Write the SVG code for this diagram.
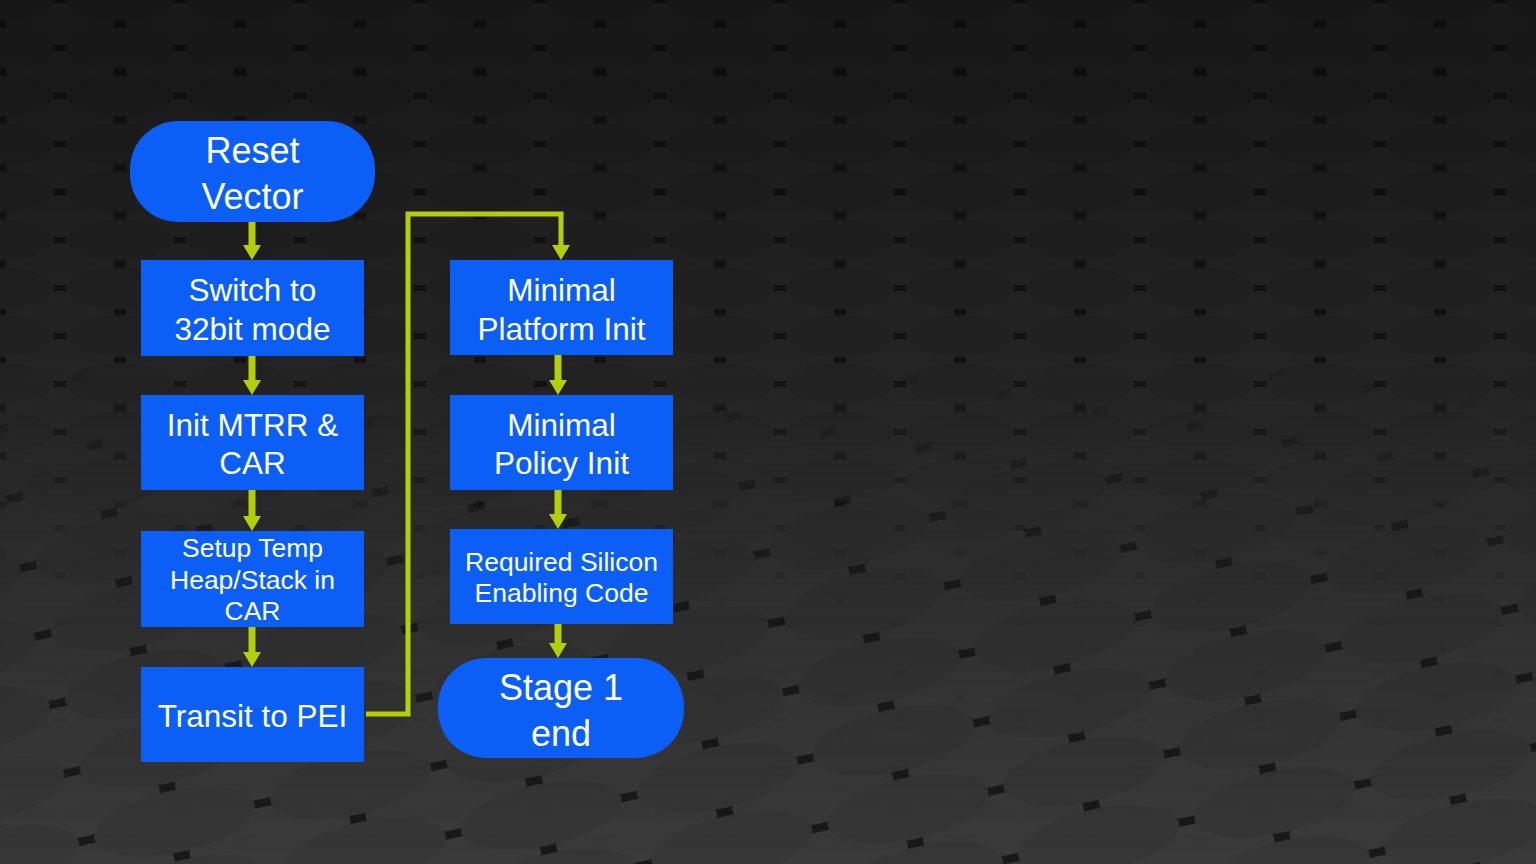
<svg xmlns="http://www.w3.org/2000/svg" width="1536" height="864" viewBox="0 0 1536 864">
  <defs>
    <style>
      .box { fill: #0B5FF7; }
      .lbl { fill: #FFFFFF; font-family: "Liberation Sans", Arial, sans-serif; text-anchor: middle; }
      .f36 { font-size: 36px; }
      .f31 { font-size: 31.5px; }
      .f26 { font-size: 26.5px; }
      .arrow { stroke: #B4CF0A; stroke-width: 7; fill: none; }
      .elbow { stroke: #B4CF0A; stroke-width: 5; fill: none; stroke-linejoin: miter; }
    </style>
    <marker id="head" viewBox="0 0 15 18" refX="1" refY="9" markerWidth="15" markerHeight="18" markerUnits="userSpaceOnUse" orient="auto">
      <path d="M0,0 L15,9 L0,18 Z" fill="#B4CF0A"/>
    </marker>
    <pattern id="discs" x="0" y="0" width="120" height="48" patternUnits="userSpaceOnUse">
      <rect width="120" height="48" fill="#1a1a1a"/>
      <ellipse cx="60" cy="24" rx="54" ry="21" fill="#343434"/>
      <ellipse cx="0" cy="0" rx="54" ry="21" fill="#303030"/>
      <ellipse cx="120" cy="0" rx="54" ry="21" fill="#303030"/>
      <ellipse cx="0" cy="48" rx="54" ry="21" fill="#303030"/>
      <ellipse cx="120" cy="48" rx="54" ry="21" fill="#303030"/>
    </pattern>
    <pattern id="discsBig" x="0" y="0" width="180" height="70" patternUnits="userSpaceOnUse" patternTransform="rotate(-12)">
      <rect width="180" height="70" fill="#181818"/>
      <ellipse cx="90" cy="35" rx="82" ry="31" fill="#3a3a3a"/>
      <ellipse cx="0" cy="0" rx="82" ry="31" fill="#363636"/>
      <ellipse cx="180" cy="0" rx="82" ry="31" fill="#363636"/>
      <ellipse cx="0" cy="70" rx="82" ry="31" fill="#363636"/>
      <ellipse cx="180" cy="70" rx="82" ry="31" fill="#363636"/>
    </pattern>
    <linearGradient id="shade" x1="0" y1="0" x2="0" y2="1">
      <stop offset="0" stop-color="#000" stop-opacity="0.55"/>
      <stop offset="0.45" stop-color="#000" stop-opacity="0.3"/>
      <stop offset="1" stop-color="#000" stop-opacity="0"/>
    </linearGradient>
    <linearGradient id="bigFade" x1="0" y1="0" x2="0" y2="1">
      <stop offset="0" stop-color="#fff" stop-opacity="0"/>
      <stop offset="0.4" stop-color="#fff" stop-opacity="0"/>
      <stop offset="0.7" stop-color="#fff" stop-opacity="0.85"/>
      <stop offset="1" stop-color="#fff" stop-opacity="1"/>
    </linearGradient>
    <mask id="bigMask">
      <rect width="1536" height="864" fill="url(#bigFade)"/>
    </mask>
  </defs>

  <g id="background">
    <rect width="1536" height="864" fill="url(#discs)"/>
    <rect width="1536" height="864" fill="url(#discsBig)" mask="url(#bigMask)"/>
    <rect width="1536" height="864" fill="url(#shade)"/>
  </g>

  <g id="connectors">
    <line class="arrow" x1="252" y1="222" x2="252" y2="246" marker-end="url(#head)"/>
    <line class="arrow" x1="252" y1="356" x2="252" y2="381" marker-end="url(#head)"/>
    <line class="arrow" x1="252" y1="490" x2="252" y2="517" marker-end="url(#head)"/>
    <line class="arrow" x1="252" y1="627" x2="252" y2="653" marker-end="url(#head)"/>
    <polyline class="elbow" points="366,714 408,714 408,214 561,214 561,246" marker-end="url(#head)"/>
    <line class="arrow" x1="558" y1="355" x2="558" y2="381" marker-end="url(#head)"/>
    <line class="arrow" x1="558" y1="490" x2="558" y2="515" marker-end="url(#head)"/>
    <line class="arrow" x1="558" y1="624" x2="558" y2="644" marker-end="url(#head)"/>
  </g>

  <g id="reset-vector">
    <rect class="box" x="130" y="121" width="245" height="101" rx="48" ry="48"/>
    <text class="lbl f36" x="252.5" y="163">Reset</text>
    <text class="lbl f36" x="252.5" y="209">Vector</text>
  </g>

  <g id="switch-32bit">
    <rect class="box" x="141" y="260" width="223" height="96"/>
    <text class="lbl f31" x="252.5" y="301">Switch to</text>
    <text class="lbl f31" x="252.5" y="340">32bit mode</text>
  </g>

  <g id="init-mtrr-car">
    <rect class="box" x="141" y="395" width="223" height="95"/>
    <text class="lbl f31" x="252.5" y="436">Init MTRR &amp;</text>
    <text class="lbl f31" x="252.5" y="474">CAR</text>
  </g>

  <g id="setup-temp">
    <rect class="box" x="141" y="531" width="223" height="96"/>
    <text class="lbl f26" x="252.5" y="557">Setup Temp</text>
    <text class="lbl f26" x="252.5" y="589">Heap/Stack in</text>
    <text class="lbl f26" x="252.5" y="620">CAR</text>
  </g>

  <g id="transit-pei">
    <rect class="box" x="141" y="667" width="223" height="95"/>
    <text class="lbl f31" x="252.5" y="727">Transit to PEI</text>
  </g>

  <g id="minimal-platform">
    <rect class="box" x="450" y="260" width="223" height="95"/>
    <text class="lbl f31" x="561.5" y="301">Minimal</text>
    <text class="lbl f31" x="561.5" y="340">Platform Init</text>
  </g>

  <g id="minimal-policy">
    <rect class="box" x="450" y="395" width="223" height="95"/>
    <text class="lbl f31" x="561.5" y="436">Minimal</text>
    <text class="lbl f31" x="561.5" y="474">Policy Init</text>
  </g>

  <g id="silicon-enabling">
    <rect class="box" x="450" y="529" width="223" height="95"/>
    <text class="lbl f26" x="561.5" y="571">Required Silicon</text>
    <text class="lbl f26" x="561.5" y="602">Enabling Code</text>
  </g>

  <g id="stage1-end">
    <rect class="box" x="438" y="658" width="246" height="100" rx="48" ry="48"/>
    <text class="lbl f36" x="561" y="700">Stage 1</text>
    <text class="lbl f36" x="561" y="746">end</text>
  </g>
</svg>
